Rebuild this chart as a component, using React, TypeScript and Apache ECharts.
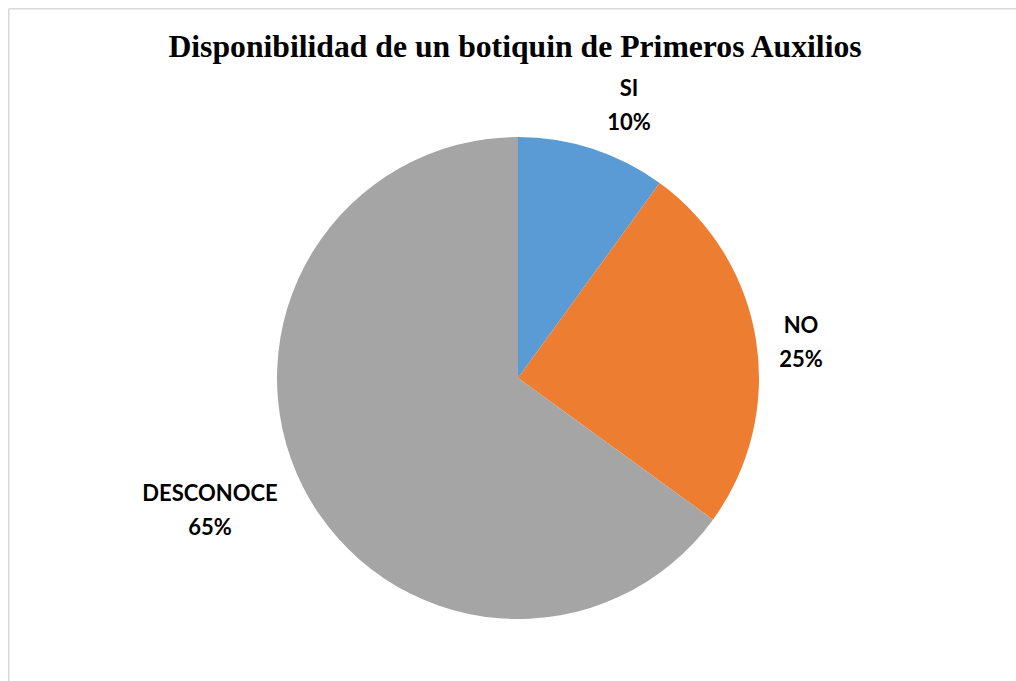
import React, { useEffect, useRef } from "react";
import * as echarts from "echarts";

const titleText = "Disponibilidad de un botiquin de Primeros Auxilios";
const categories = ["SI", "NO", "DESCONOCE"];
const values = [10, 25, 65];
const colors = ["#5B9BD5", "#ED7D31", "#A5A5A5"];
// label centres (container px)
const labelPos = [
  [621, 96.5],
  [793, 333],
  [202, 501.5],
];

export default function App() {
  const ref = useRef<HTMLDivElement>(null);
  useEffect(() => {
    if (!ref.current) return;
    const chart = echarts.init(ref.current, undefined, { renderer: "svg" });
    chart.setOption({
      animation: false,
      graphic: [
        {
          type: "line",
          shape: { x1: 0.75, y1: 0.75, x2: 0.75, y2: 760 },
          style: { stroke: "#d9d9d9", lineWidth: 1.5 },
          silent: true,
        },
        {
          type: "line",
          shape: { x1: 0.75, y1: 0.75, x2: 1150, y2: 0.75 },
          style: { stroke: "#d9d9d9", lineWidth: 1.5 },
          silent: true,
        },
        {
          type: "text",
          x: 507,
          y: 38,
          style: {
            text: titleText,
            font: 'bold 31.7px "Liberation Serif", "Times New Roman", serif',
            fill: "#000000",
            textAlign: "center",
            textVerticalAlign: "middle",
          },
        },
      ],
      series: [
        {
          type: "pie",
          center: [510, 370],
          radius: [0, 241],
          startAngle: 90,
          clockwise: true,
          data: categories.map((c, i) => ({
            name: c,
            value: values[i],
            itemStyle: { color: colors[i] },
          })),
          label: {
            show: true,
            formatter: "{b}\n{d}%",
            fontFamily: "Lato, 'Open Sans', sans-serif",
            fontWeight: "bold",
            fontSize: 22,
            lineHeight: 34,
            color: "#000000",
            align: "center",
          },
          labelLine: { show: false },
          labelLayout: (params: any) => {
            const p = labelPos[params.dataIndex];
            return { x: p[0], y: p[1], align: "center", verticalAlign: "middle" };
          },
          emphasis: { disabled: true },
        },
      ],
    });
    return () => chart.dispose();
  }, []);
  return (
    <div
      style={{
        position: "fixed",
        left: 0,
        top: 0,
        width: 1016,
        height: 681,
        overflow: "hidden",
        background: "#ffffff",
      }}
    >
      <div
        ref={ref}
        style={{ position: "absolute", left: 8, top: 8, width: 1100, height: 750 }}
      />
    </div>
  );
}
